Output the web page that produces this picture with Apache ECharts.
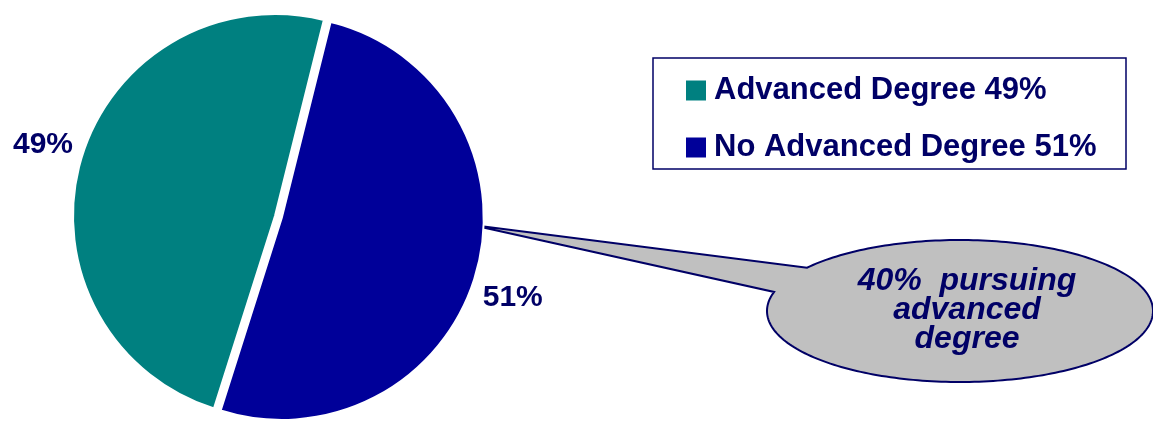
<!DOCTYPE html>
<html>
<head>
<meta charset="utf-8">
<script src="https://cdn.jsdelivr.net/npm/echarts@6/dist/echarts.min.js"></script>
<style>
  html, body { margin: 0; padding: 0; background: #ffffff; }
  #chart { width: 1153px; height: 428px; }
</style>
</head>
<body>
<div id="chart"></div>
<script>
// Share of respondents by degree status
const categories = ['Advanced Degree', 'No Advanced Degree'];
const shares = [49, 51];
const calloutLines = ['40%  pursuing', 'advanced', 'degree'];

// Styling
const sliceColors = ['#008080', '#000099'];
const navy = '#000066';
const fontFamily = '"Liberation Sans", Arial, sans-serif';
const labelReach = [60, 93];   // how far each percent label sits beyond the rim

// Speech-bubble outline: pointer tip plus an elliptical body
const bubble = { cx: 960, cy: 311, rx: 193, ry: 71, tip: [472, 225], base1: [808, 268], base2: [775, 292] };

function bubbleOutline(b) {
  const angle = p => Math.atan2((p[1] - b.cy) / b.ry, (p[0] - b.cx) / b.rx);
  const t1 = angle(b.base1);
  let t2 = angle(b.base2);
  while (t2 <= t1) t2 += Math.PI * 2;
  const pts = [b.tip];
  const steps = 240;
  for (let i = 0; i <= steps; i++) {
    const t = t1 + (t2 - t1) * i / steps;
    pts.push([b.cx + b.rx * Math.cos(t), b.cy + b.ry * Math.sin(t)]);
  }
  return pts;
}

const chart = echarts.init(document.getElementById('chart'), null, { renderer: 'canvas' });

chart.setOption({
  animation: false,
  backgroundColor: '#ffffff',
  legend: {
    orient: 'vertical',
    left: 686,
    top: 75,
    padding: 0,
    itemGap: 26,
    itemWidth: 20,
    itemHeight: 20,
    icon: 'rect',
    selectedMode: false,
    data: categories,
    itemStyle: { borderWidth: 0 },
    formatter: name => name + ' ' + shares[categories.indexOf(name)] + '%',
    textStyle: {
      color: navy,
      fontSize: 31,
      fontWeight: 'bold',
      fontFamily: fontFamily,
      padding: [0, 0, 0, 3]
    }
  },
  graphic: [
    {
      type: 'rect',
      shape: { x: 653, y: 58, width: 473, height: 111 },
      style: { fill: 'none', stroke: navy, lineWidth: 1.5 },
      silent: true
    },
    {
      type: 'polygon',
      shape: { points: bubbleOutline(bubble) },
      style: { fill: '#C0C0C0', stroke: navy, lineWidth: 2, lineJoin: 'miter' },
      silent: true
    },
    {
      type: 'text',
      x: 967,
      y: 310,
      style: {
        text: calloutLines.join('\n'),
        font: 'italic bold 32px ' + fontFamily,
        fill: navy,
        align: 'center',
        verticalAlign: 'middle',
        lineHeight: 29
      },
      silent: true
    }
  ],
  series: [
    {
      type: 'pie',
      left: 0,
      top: 0,
      width: 549,
      height: 428,
      center: [275, 216],
      radius: 202,
      startAngle: 76,
      clockwise: false,
      selectedMode: 'single',
      selectedOffset: 7,
      avoidLabelOverlap: false,
      emphasis: { disabled: true },
      label: {
        position: 'outside',
        alignTo: 'edge',
        edgeDistance: 13,
        formatter: '{c}%',
        color: navy,
        fontSize: 30,
        fontWeight: 'bold',
        fontFamily: fontFamily
      },
      labelLine: { show: false },
      data: categories.map((name, i) => ({
        name: name,
        value: shares[i],
        selected: i === 1,
        itemStyle: { color: sliceColors[i], borderColor: '#ffffff', borderWidth: 2 },
        select: { itemStyle: { color: sliceColors[i], borderColor: '#ffffff', borderWidth: 2 } },
        labelLine: { show: false, length: labelReach[i], length2: 0 }
      }))
    }
  ]
});
</script>
</body>
</html>
